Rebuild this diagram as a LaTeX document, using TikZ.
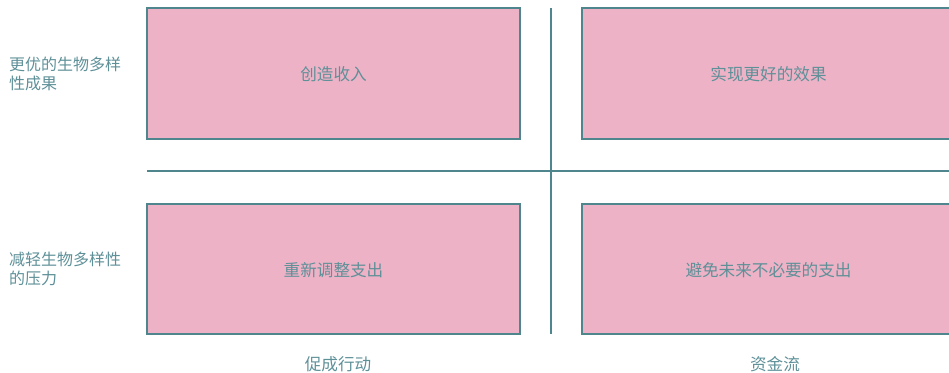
\documentclass[tikz,border=0pt]{standalone}
\usepackage{fontspec}
\newfontfamily\cjk{Noto Sans CJK SC}
\definecolor{boxfill}{HTML}{EDB2C6}
\definecolor{edge}{HTML}{4F858C}
\definecolor{txt}{HTML}{5E9098}
\begin{document}
\begin{tikzpicture}[x=1pt,y=-1pt,
  quad/.style={draw=edge,line width=1.5pt,fill=boxfill},
  boxtext/.style={text=txt,font=\cjk\fontsize{16.6}{19}\selectfont},
  sidetext/.style={text=txt,font=\cjk\fontsize{16}{19}\selectfont,align=left,anchor=west},
  divider/.style={draw=edge,line width=1.5pt}]
\useasboundingbox (0,0) rectangle (949,372);
\begin{scope}
\clip (0,0) rectangle (949,372);
\draw[quad] (147,8) rectangle (520,139);
\draw[quad] (582,8) rectangle (956,139);
\draw[quad] (147,204) rectangle (520,334);
\draw[quad] (582,204) rectangle (956,334);
\coordinate (vtop) at (551,8);
\coordinate (vbot) at (551,334);
\coordinate (hl) at (147,171);
\coordinate (hr) at (950,171);
\draw[divider] (vtop) -- (vbot);
\draw[divider] (hl) -- (hr);
\end{scope}
\node[boxtext] (a) at (333.5,74) {创造收入};
\node[boxtext] (b) at (768.5,74) {实现更好的效果};
\node[boxtext] (c) at (333.5,270) {重新调整支出};
\node[boxtext] (d) at (768.5,270) {避免未来不必要的支出};
\node[sidetext] (e) at (5.5,74) {更优的生物多样\\性成果};
\node[sidetext] (f) at (5.5,269) {减轻生物多样性\\的压力};
\node[boxtext] (g) at (338,364) {促成行动};
\node[boxtext] (h) at (775,364) {资金流};
\end{tikzpicture}
\end{document}
